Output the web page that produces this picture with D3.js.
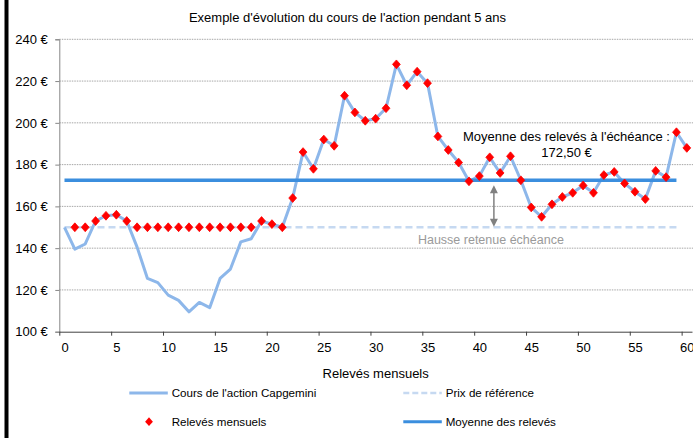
<!DOCTYPE html>
<html>
<head>
<meta charset="utf-8">
<script src="https://cdn.jsdelivr.net/npm/d3@7"></script>
<style>
  body { margin: 0; background: #fff; }
  svg { display: block; font-family: "Liberation Sans", Arial, sans-serif; }
</style>
</head>
<body>
<div id="chart"></div>
<script>
// monthly share price, readings 0..60
var months = d3.range(61);
var coursAction = [150, 139.5, 142, 153, 155.5, 156, 153, 140.5, 125.5, 123.5,
  117.5, 115, 109.5, 114, 111.5, 125.5, 130, 143, 144.5, 153,
  151.5, 150, 164, 186, 178, 192, 189, 213, 205, 201,
  202, 207, 228, 218, 224.5, 219, 193.5, 187, 181, 172,
  174.5, 183.5, 176, 184, 172.5, 159.5, 155, 161, 164.5, 166.5,
  170, 166.5, 175, 176.5, 171, 167, 163.5, 177, 174, 195.5, 188];
// monthly readings (price floored at the reference), months 1..60
var releves = [150, 150, 153, 155.5, 156, 153, 150, 150, 150, 150,
  150, 150, 150, 150, 150, 150, 150, 150, 153, 151.5,
  150, 164, 186, 178, 192, 189, 213, 205, 201, 202,
  207, 228, 218, 224.5, 219, 193.5, 187, 181, 172, 174.5,
  183.5, 176, 184, 172.5, 159.5, 155, 161, 164.5, 166.5, 170,
  166.5, 175, 176.5, 171, 167, 163.5, 177, 174, 195.5, 188];
var prixReference = 150;
var moyenneReleves = 172.5;
var flatMonths = d3.range(60); // horizontal series cover months 0..59
var yTicks = [100, 120, 140, 160, 180, 200, 220, 240];
var xTicks = d3.range(0, 61, 5);
var legendLabels = ["Cours de l'action Capgemini", "Prix de référence", "Relevés mensuels", "Moyenne des relevés"];

var width = 693, height = 438;
var margin = {top: 39.3, right: 1, bottom: 106.3, left: 59.3};

var colPrice = "#8db7ea", colMean = "#3b8ede", colRef = "#c6d9f1", colMark = "#ff0000";

var svg = d3.select("#chart").append("svg")
    .attr("width", width)
    .attr("height", height);

svg.append("rect").attr("width", width).attr("height", height).attr("fill", "#fff");
// black bar on the left edge
svg.append("rect").attr("x", 4.5).attr("y", 0).attr("width", 4).attr("height", height).attr("fill", "#000");

// category axis: 61 slots, each point sits in the middle of its slot
var x = d3.scaleLinear()
    .domain([-0.5, 60.5])
    .range([margin.left, width - margin.right]);
var bw = x(1) - x(0);

var y = d3.scaleLinear()
    .domain([100, 240])
    .range([height - margin.bottom, margin.top]);

// title
svg.append("text")
    .attr("x", 347.5).attr("y", 17)
    .attr("dy", "0.35em")
    .attr("text-anchor", "middle")
    .style("font-size", "13px")
    .text("Exemple d'évolution du cours de l'action pendant 5 ans");

// gridlines
svg.append("g")
  .selectAll("line")
  .data(yTicks.filter(d => d > 100))
  .join("line")
    .attr("x1", margin.left).attr("x2", width)
    .attr("y1", d => y(d)).attr("y2", d => y(d))
    .attr("stroke", "#a6a6a6")
    .attr("stroke-width", 1)
    .attr("stroke-dasharray", "1.5,1");

// y axis
var yAxis = svg.append("g")
    .attr("transform", `translate(${margin.left},0)`)
    .call(d3.axisLeft(y).tickValues(yTicks).tickSize(4).tickPadding(7.5).tickFormat(d => d + " €"));
yAxis.select(".domain").attr("stroke", "#868686");
yAxis.selectAll(".tick line").attr("stroke", "#868686");
yAxis.selectAll("text").style("font-size", "13px").attr("fill", "#000");

// x axis, ticks on the slot borders
var xAxis = svg.append("g")
    .attr("transform", `translate(0,${y(100)})`)
    .call(d3.axisBottom(x).tickValues(xTicks).tickSize(4).tickPadding(7).tickSizeOuter(0));
xAxis.select(".domain").attr("stroke", "#404040");
xAxis.selectAll(".tick line").attr("x1", -bw / 2).attr("x2", -bw / 2).attr("stroke", "#404040");
xAxis.selectAll("text").style("font-size", "13px").attr("fill", "#000");

svg.append("text")
    .attr("x", (margin.left + width - margin.right) / 2).attr("y", 373.5)
    .attr("dy", "0.35em")
    .attr("text-anchor", "middle")
    .style("font-size", "13px")
    .text("Relevés mensuels");

// reference price (dashed) and average of readings
svg.append("path")
    .datum(flatMonths)
    .attr("fill", "none")
    .attr("stroke", colRef)
    .attr("stroke-width", 2.5)
    .attr("stroke-dasharray", "7,4")
    .attr("d", d3.line().x(d => x(d)).y(() => y(prixReference)));

svg.append("path")
    .datum(months)
    .attr("fill", "none")
    .attr("stroke", colPrice)
    .attr("stroke-width", 3)
    .attr("stroke-linejoin", "round")
    .attr("d", d3.line().x(d => x(d)).y(d => y(coursAction[d])));

svg.append("path")
    .datum(flatMonths)
    .attr("fill", "none")
    .attr("stroke", colMean)
    .attr("stroke-width", 3.5)
    .attr("d", d3.line().x(d => x(d)).y(() => y(moyenneReleves)));

var diamond = "M0,-4.4L3.9,0L0,4.4L-3.9,0Z";
svg.append("g")
  .selectAll("path")
  .data(releves)
  .join("path")
    .attr("transform", (d, i) => `translate(${x(i + 1)},${y(d)})`)
    .attr("d", diamond)
    .attr("fill", colMark)
    .attr("stroke", colMark)
    .attr("stroke-width", 0.8)
    .attr("stroke-linejoin", "round");

// gap arrow between reference and average
var ax = x(41.4);
var arrowTop = y(moyenneReleves) + 5, arrowBot = y(prixReference) - 0.5;
svg.append("line")
    .attr("x1", ax).attr("x2", ax)
    .attr("y1", arrowTop + 6).attr("y2", arrowBot - 6)
    .attr("stroke", "#808080").attr("stroke-width", 1.5);
svg.append("path")
    .attr("d", `M${ax},${arrowTop}l-4,8h8z M${ax},${arrowBot}l-4,-8h8z`)
    .attr("fill", "#808080");

svg.append("text")
    .attr("x", ax - 3).attr("y", y(prixReference) + 12.5)
    .attr("dy", "0.35em")
    .attr("text-anchor", "middle")
    .attr("fill", "#9a9a9a")
    .style("font-size", "12.5px")
    .text("Hausse retenue échéance");

var note = svg.append("text")
    .attr("text-anchor", "middle")
    .style("font-size", "13px");
note.append("tspan").attr("x", x(48.4)).attr("y", y(193.7)).attr("dy", "0.35em").text("Moyenne des relevés à l'échéance :");
note.append("tspan").attr("x", x(48.4)).attr("y", y(185.9)).attr("dy", "0.35em").text("172,50 €");

// legend
var legendPos = [[129.3, 393], [403.3, 393], [129.3, 421.7], [403.3, 421.7]];
var lg = svg.append("g").style("font-size", "11.6px");
legendLabels.forEach((label, i) => {
  var p = legendPos[i];
  if (i === 2) {
    lg.append("path").attr("transform", `translate(${p[0] + 19.7},${p[1]})`)
      .attr("d", diamond).attr("fill", colMark);
  } else {
    lg.append("line")
      .attr("x1", p[0]).attr("x2", p[0] + 38.5)
      .attr("y1", p[1]).attr("y2", p[1])
      .attr("stroke", i === 0 ? colPrice : i === 1 ? colRef : colMean)
      .attr("stroke-width", i === 1 ? 2.5 : 3)
      .attr("stroke-dasharray", i === 1 ? "6,3" : null);
  }
  lg.append("text")
    .attr("x", p[0] + 42.4).attr("y", p[1])
    .attr("dy", "0.35em")
    .text(label);
});
</script>
</body>
</html>
